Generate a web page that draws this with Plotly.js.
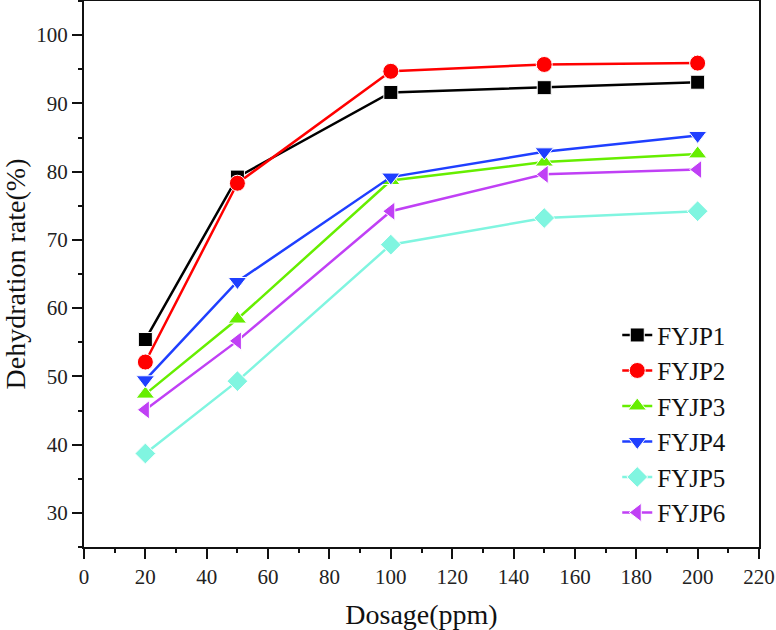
<!DOCTYPE html>
<html>
<head>
<meta charset="utf-8">
<script src="https://cdn.plot.ly/plotly-3.0.1.min.js"></script>
<style>
html,body{margin:0;padding:0;background:#fff;}
#chart{width:776px;height:630px;}
#chart text{font-family:"Liberation Serif","Times New Roman",serif !important;}
</style>
</head>
<body>
<div id="chart"></div>
<script>
const dosage = [20, 50, 100, 150, 200];
const seriesNames = ["FYJP1", "FYJP2", "FYJP3", "FYJP4", "FYJP5", "FYJP6"];
const FYJP1 = [55.4, 79.2, 91.6, 92.3, 93.1];
const FYJP2 = [52.1, 78.3, 94.7, 95.7, 95.9];
const FYJP3 = [47.4, 58.4, 78.7, 81.4, 82.6];
const FYJP4 = [49.5, 63.9, 79.2, 82.9, 85.3];
const FYJP5 = [38.7, 49.3, 69.3, 73.2, 74.2];
const FYJP6 = [45.1, 55.2, 74.2, 79.6, 80.3];

const values = [FYJP1, FYJP2, FYJP3, FYJP4, FYJP5, FYJP6];
const colors = ["#000000", "#ff0000", "#66ee00", "#1f3fff", "#80f5e0", "#c040f5"];
const symbols = ["square", "circle", "triangle-up", "triangle-down", "diamond", "triangle-left"];
const sizes = [14, 16, 16, 16, 16, 16];

const traces = values.map((v, i) => ({
  x: dosage, y: v, name: seriesNames[i], type: "scatter", mode: "lines+markers",
  line: {color: colors[i], width: 2.5},
  marker: {symbol: symbols[i], size: sizes[i], color: colors[i], line: {color: "#ffffff", width: 1}}
}));

const fam = "Liberation Serif";
const axisCommon = {
  showgrid: false, zeroline: false, showline: true, linecolor: "#111", linewidth: 2, mirror: true,
  ticks: "outside", ticklen: 10, tickwidth: 2, tickcolor: "#111",
  tickfont: {family: fam, size: 21, color: "#222"}
};
const layout = {
  width: 776, height: 630,
  margin: {l: 84, r: 17, t: 1, b: 83},
  paper_bgcolor: "#fff", plot_bgcolor: "#fff",
  font: {family: fam, color: "#111"},
  showlegend: true,
  legend: {x: 0.79, xanchor: "left", y: 0.43, yanchor: "top", font: {family: fam, size: 25, color: "#111"},
           bgcolor: "rgba(0,0,0,0)", tracegroupgap: 0},
  xaxis: Object.assign({}, axisCommon, {
    range: [0, 220], dtick: 20, tick0: 0,
    title: {text: "Dosage(ppm)", font: {family: fam, size: 28, color: "#111"}, standoff: 18}
  }),
  yaxis: Object.assign({}, axisCommon, {
    range: [25, 105], dtick: 10, tick0: 0,
    title: {text: "Dehydration rate(%)", font: {family: fam, size: 28, color: "#111"}, standoff: 10}
  }),
  xaxis2: {overlaying: "x", matches: "x", range: [0, 220], dtick: 10, tick0: 0, ticks: "outside", ticklen: 5, tickwidth: 2,
           tickcolor: "#111", showticklabels: false, showgrid: false, zeroline: false, showline: false, anchor: "y", side: "bottom"},
  yaxis2: {overlaying: "y", matches: "y", range: [25, 105], dtick: 5, tick0: 0, ticks: "outside", ticklen: 5, tickwidth: 2,
           tickcolor: "#111", showticklabels: false, showgrid: false, zeroline: false, showline: false, anchor: "x", side: "left"}
};
traces.push({x: [], y: [], xaxis: "x2", yaxis: "y2", showlegend: false, hoverinfo: "skip", type: "scatter"});
const cfg = {displayModeBar: false, staticPlot: true};
Plotly.newPlot("chart", traces, layout, cfg);
if (document.fonts && document.fonts.ready) {
  document.fonts.ready.then(() => { Plotly.newPlot("chart", traces, layout, cfg); });
}
</script>
</body>
</html>
